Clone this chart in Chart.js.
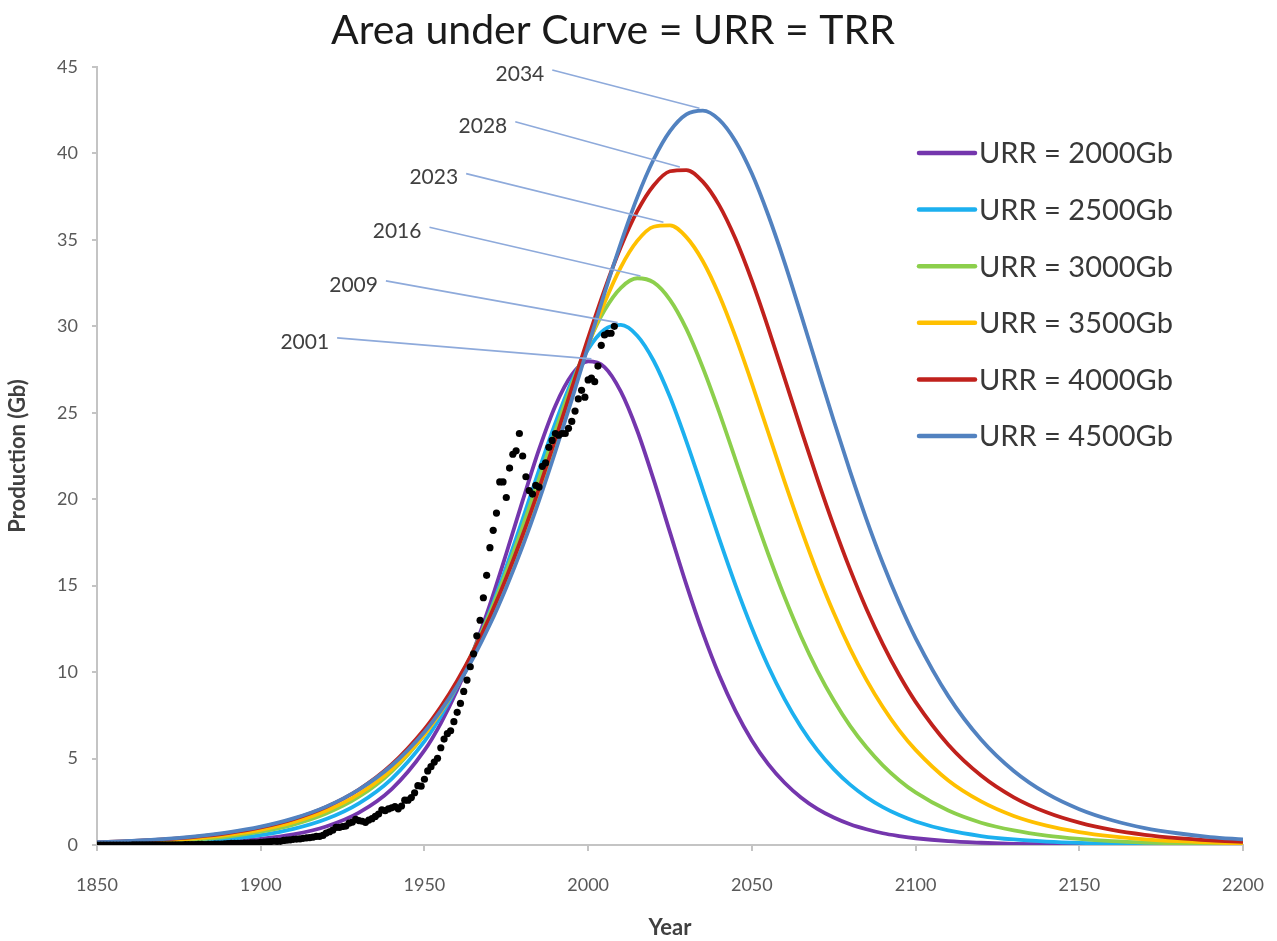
<!DOCTYPE html>
<html>
<head>
<meta charset="utf-8">
<title>Area under Curve = URR = TRR</title>
<script src="https://cdn.jsdelivr.net/npm/chart.js@4.4.1/dist/chart.umd.min.js"></script>
<style>
  html, body { margin: 0; padding: 0; background: #fff; overflow: hidden; }
  #wrap { width: 1277px; height: 941px; position: relative; }
  #hubbertChart { display: block; }
</style>
</head>
<body>
<div id="wrap"><canvas id="hubbertChart"></canvas></div>
<script>
// model years shared by all URR curves
const years = [1850, 1860, 1870, 1880, 1890, 1900, 1910, 1920, 1930, 1940,
  1950, 1955, 1960, 1965, 1970, 1975, 1980, 1985, 1990, 1995, 2000, 2005, 2010, 2015,
  2020, 2025, 2030, 2035, 2040, 2045, 2050, 2055, 2060, 2065, 2070, 2075, 2080, 2085,
  2090, 2095, 2100, 2110, 2120, 2130, 2140, 2150, 2160, 2170, 2180, 2190, 2200];

const urr2000 = [0.02, 0.04, 0.06, 0.11, 0.20, 0.35, 0.61, 1.07, 1.87, 3.23,
  5.47, 7.04, 8.96, 11.26, 13.91, 16.86, 19.92, 22.88, 25.41, 27.19, 27.98, 27.64, 26.22, 23.96,
  21.13, 18.08, 15.06, 12.28, 9.83, 7.76, 6.05, 4.68, 3.60, 2.75, 2.09, 1.59, 1.20, 0.91,
  0.68, 0.52, 0.39, 0.22, 0.13, 0.07, 0.04, 0.02, 0.01, 0.01, 0.00, 0.00, 0.00];
const urr2500 = [0.05, 0.08, 0.13, 0.22, 0.35, 0.57, 0.93, 1.50, 2.41, 3.83,
  5.99, 7.44, 9.17, 11.19, 13.51, 16.09, 18.85, 21.69, 24.41, 26.82, 28.68, 29.81, 30.08, 29.46,
  28.01, 25.91, 23.35, 20.56, 17.73, 15.03, 12.55, 10.34, 8.44, 6.83, 5.49, 4.39, 3.49, 2.77,
  2.19, 1.73, 1.36, 0.84, 0.52, 0.32, 0.20, 0.12, 0.07, 0.05, 0.03, 0.02, 0.01];
const urr3000 = [0.09, 0.13, 0.21, 0.32, 0.49, 0.77, 1.18, 1.82, 2.79, 4.25,
  6.37, 7.75, 9.37, 11.26, 13.41, 15.81, 18.42, 21.18, 23.96, 26.63, 29.01, 30.93, 32.23, 32.78,
  32.54, 31.53, 29.85, 27.62, 25.05, 22.29, 19.51, 16.83, 14.34, 12.08, 10.09, 8.37, 6.89, 5.65,
  4.61, 3.75, 3.04, 1.99, 1.29, 0.84, 0.54, 0.35, 0.22, 0.14, 0.09, 0.06, 0.04];
const urr3500 = [0.11, 0.17, 0.26, 0.39, 0.59, 0.88, 1.32, 1.98, 2.95, 4.36,
  6.39, 7.69, 9.21, 10.98, 13.00, 15.27, 17.77, 20.47, 23.29, 26.13, 28.87, 31.36, 33.43, 34.94,
  35.76, 35.84, 35.16, 33.78, 31.81, 29.40, 26.70, 23.86, 21.02, 18.30, 15.75, 13.43, 11.36, 9.55,
  7.98, 6.63, 5.50, 3.73, 2.52, 1.68, 1.12, 0.75, 0.50, 0.33, 0.22, 0.15, 0.10];
const urr4000 = [0.15, 0.22, 0.32, 0.47, 0.69, 1.02, 1.50, 2.20, 3.21, 4.66,
  6.70, 7.99, 9.50, 11.24, 13.22, 15.46, 17.93, 20.62, 23.47, 26.41, 29.33, 32.11, 34.60, 36.66,
  38.15, 38.97, 39.04, 38.37, 37.01, 35.06, 32.64, 29.90, 26.99, 24.05, 21.18, 18.46, 15.94, 13.65,
  11.62, 9.83, 8.28, 5.80, 4.02, 2.76, 1.89, 1.29, 0.87, 0.59, 0.40, 0.27, 0.18];
const urr4500 = [0.16, 0.24, 0.34, 0.50, 0.73, 1.06, 1.54, 2.22, 3.21, 4.60,
  6.54, 7.77, 9.20, 10.86, 12.75, 14.90, 17.29, 19.92, 22.76, 25.76, 28.85, 31.91, 34.82, 37.46,
  39.65, 41.29, 42.26, 42.48, 41.96, 40.71, 38.84, 36.44, 33.69, 30.69, 27.61, 24.55, 21.61, 18.84,
  16.30, 14.01, 11.97, 8.61, 6.10, 4.28, 2.98, 2.07, 1.43, 0.98, 0.68, 0.46, 0.32];

// historical production, one value per year from 1850
const histStart = 1850;
const histProduction = [
  0, 0, 0, 0, 0, 0, 0, 0, 0, 0,
  0.001, 0.002, 0.003, 0.003, 0.002, 0.003, 0.004, 0.003, 0.004, 0.004,
  0.006, 0.006, 0.007, 0.011, 0.012, 0.012, 0.012, 0.016, 0.017, 0.023,
  0.03, 0.031, 0.031, 0.03, 0.031, 0.037, 0.047, 0.048, 0.051, 0.061,
  0.077, 0.091, 0.09, 0.091, 0.089, 0.104, 0.114, 0.121, 0.125, 0.131,
  0.149, 0.167, 0.182, 0.195, 0.218, 0.215, 0.213, 0.264, 0.285, 0.299,
  0.328, 0.345, 0.352, 0.385, 0.408, 0.432, 0.458, 0.503, 0.503, 0.556,
  0.689, 0.766, 0.859, 1.016, 1.014, 1.069, 1.096, 1.263, 1.325, 1.486,
  1.411, 1.373, 1.309, 1.442, 1.522, 1.654, 1.791, 2.039, 1.988, 2.086,
  2.15, 2.221, 2.093, 2.257, 2.592, 2.595, 2.745, 3.022, 3.433, 3.404,
  3.803, 4.283, 4.531, 4.799, 5.018, 5.626, 6.125, 6.439, 6.608, 7.134,
  7.674, 8.186, 8.882, 9.537, 10.31, 11.06, 12.1, 13.0, 14.3, 15.6,
  17.2, 18.2, 19.2, 21.0, 21.0, 20.1, 21.8, 22.6, 22.8, 23.8,
  22.5, 21.3, 20.5, 20.3, 20.8, 20.7, 21.9, 22.1, 23.0, 23.4,
  23.8, 23.7, 23.8, 23.8, 24.1, 24.5, 25.1, 25.8, 26.3, 25.9,
  26.9, 27.0, 26.8, 27.7, 28.9, 29.5, 29.6, 29.6, 30.0
];

const seriesLabels = ['URR = 2000Gb', 'URR = 2500Gb', 'URR = 3000Gb', 'URR = 3500Gb', 'URR = 4000Gb', 'URR = 4500Gb'];
const peakYears = [2001, 2009, 2016, 2023, 2028, 2034];
const peakValues = [28.0, 30.1, 32.8, 35.9, 39.1, 42.5];

// where the peak-year labels sit (right edge of text, in axis units)
const calloutPos = [
  {x: 1920.9, y: 29.1}, {x: 1935.8, y: 32.4}, {x: 1949.1, y: 35.5},
  {x: 1960.3, y: 38.6}, {x: 1975.3, y: 41.6}, {x: 1986.6, y: 44.6}
];

const colors = ['#7436ad', '#1cb0ef', '#8ccf4c', '#ffc000', '#c0211c', '#5282c0'];
const curves = [urr2000, urr2500, urr3000, urr3500, urr4000, urr4500];

const FONT = 'Lato, "Open Sans", sans-serif';

const curveSets = curves.map((vals, i) => ({
  label: seriesLabels[i],
  data: years.map((yr, j) => ({x: yr, y: vals[j]})),
  borderColor: colors[i],
  backgroundColor: colors[i],
  borderWidth: 3.8,
  pointRadius: 0,
  cubicInterpolationMode: 'monotone',
  fill: false,
  order: 6 - i
}));

const histSet = {
  label: 'Production',
  data: histProduction.map((v, i) => ({x: histStart + i, y: v})),
  showLine: false,
  pointRadius: 3.6,
  pointStyle: 'circle',
  pointBackgroundColor: '#000',
  pointBorderWidth: 0,
  order: 0
};

const titleAndLegend = {
  id: 'titleAndLegend',
  afterDraw(chart) {
    const ctx = chart.ctx;
    ctx.save();
    ctx.fillStyle = '#1a1a1a';
    ctx.font = '41px ' + FONT;
    ctx.textAlign = 'center';
    ctx.textBaseline = 'alphabetic';
    ctx.fillText('Area under Curve = URR = TRR', 613, 44);

    ctx.font = '29px ' + FONT;
    ctx.textAlign = 'left';
    ctx.textBaseline = 'middle';
    seriesLabels.forEach((lab, i) => {
      const yy = 153 + i * 56.6;
      ctx.strokeStyle = colors[i];
      ctx.lineWidth = 4.5;
      ctx.lineCap = 'round';
      ctx.beginPath();
      ctx.moveTo(919, yy);
      ctx.lineTo(975, yy);
      ctx.stroke();
      ctx.fillStyle = '#383838';
      ctx.fillText(lab, 979, yy + 1);
    });
    ctx.restore();
  }
};

const callouts = {
  id: 'callouts',
  afterDatasetsDraw(chart) {
    const {ctx, scales: {x, y}} = chart;
    ctx.save();
    ctx.font = '21px ' + FONT;
    ctx.textAlign = 'right';
    ctx.textBaseline = 'middle';
    peakYears.forEach((yr, i) => {
      const tx = x.getPixelForValue(calloutPos[i].x);
      const ty = y.getPixelForValue(calloutPos[i].y);
      const px = x.getPixelForValue(yr);
      const py = y.getPixelForValue(peakValues[i]);
      ctx.strokeStyle = '#8eaadb';
      ctx.lineWidth = 1.6;
      ctx.beginPath();
      ctx.moveTo(tx + 8, ty - 4);
      ctx.lineTo(px, py - 2);
      ctx.stroke();
      ctx.fillStyle = '#404040';
      ctx.fillText(String(yr), tx, ty);
    });
    ctx.restore();
  }
};

new Chart(document.getElementById('hubbertChart'), {
  type: 'line',
  data: {datasets: [histSet, ...curveSets]},
  plugins: [callouts, titleAndLegend],
  options: {
    responsive: true,
    maintainAspectRatio: false,
    animation: false,
    devicePixelRatio: 1,
    layout: {padding: {top: 67, right: 34, left: 0, bottom: 0}},
    plugins: {
      legend: {display: false},
      title: {display: false},
      tooltip: {enabled: false}
    },
    scales: {
      x: {
        type: 'linear',
        min: 1850,
        max: 2200,
        ticks: {
          stepSize: 50,
          padding: 23,
          color: '#595959',
          font: {family: FONT, size: 18},
          callback: v => String(v)
        },
        grid: {drawOnChartArea: false, drawTicks: true, tickLength: 6, color: '#c4c4c4', lineWidth: 2},
        border: {color: '#c4c4c4', width: 2},
        title: {
          display: true,
          text: 'Year',
          color: '#404040',
          font: {family: FONT, size: 22, weight: 'bold'},
          padding: {top: 0, bottom: 0}
        },
        afterFit(scale) {
          scale.height = 96;
          scale.paddingLeft = 0;
          scale.paddingRight = 0;
        }
      },
      y: {
        min: 0,
        max: 45,
        ticks: {
          stepSize: 5,
          padding: 14,
          color: '#595959',
          font: {family: FONT, size: 18}
        },
        grid: {drawOnChartArea: false, drawTicks: true, tickLength: 5, color: '#c4c4c4', lineWidth: 2},
        border: {color: '#c4c4c4', width: 2},
        title: {
          display: true,
          text: 'Production (Gb)',
          color: '#404040',
          font: {family: FONT, size: 22, weight: 'bold'},
          padding: {top: 5, bottom: 0}
        },
        afterFit(scale) {
          scale.width = 97;
          scale.paddingTop = 0;
          scale.paddingBottom = 0;
        }
      }
    }
  }
});
</script>
</body>
</html>
